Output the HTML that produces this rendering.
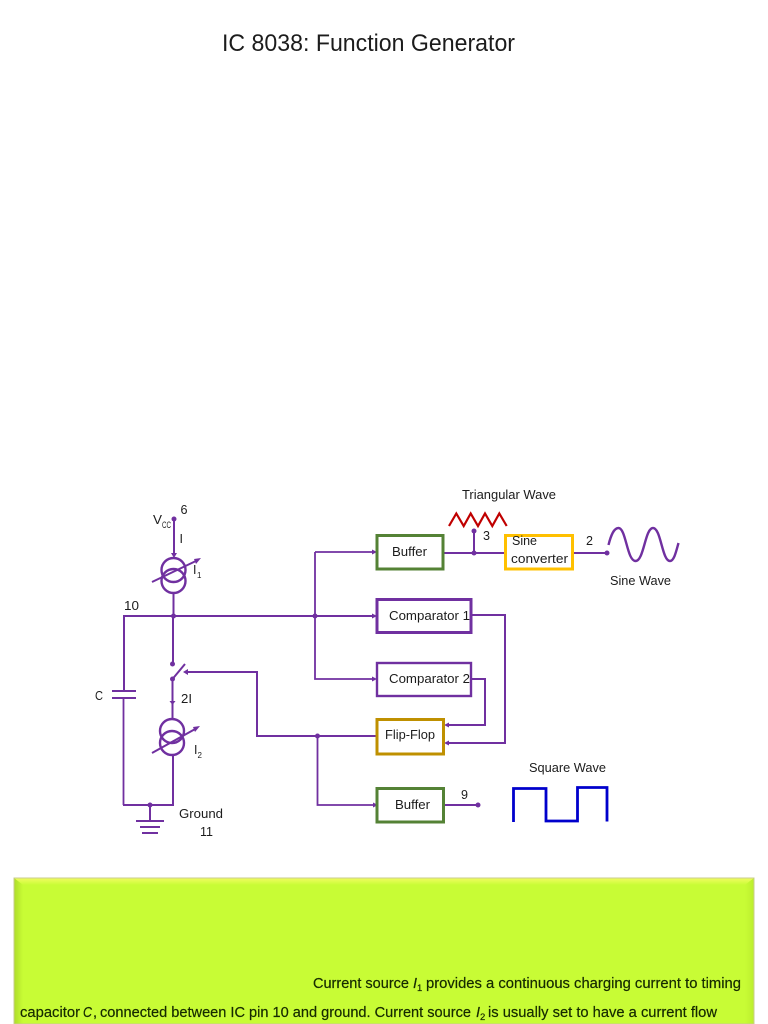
<!DOCTYPE html>
<html>
<head>
<meta charset="utf-8">
<style>
html,body{margin:0;padding:0;background:#fff;width:768px;height:1024px;overflow:hidden}
svg{display:block;filter:blur(.35px)}
text{font-family:"Liberation Sans",sans-serif;fill:#1c1c1c;font-size:12.5px}
.w{fill:none;stroke:#7030a0;stroke-width:2}
.t{fill:none;stroke:#7030a0;stroke-width:1.8}
.d{fill:#7030a0}
.b{fill:#fff;stroke-width:3}
.g text{font-size:14.5px;fill:#162a00;stroke:#162a00;stroke-width:.2}
</style>
</head>
<body>
<svg width="768" height="1024" viewBox="0 0 768 1024" xmlns="http://www.w3.org/2000/svg">
<defs>
<linearGradient id="gt" x1="0" y1="0" x2="0" y2="1"><stop offset="0" stop-color="#f2fb62"/><stop offset="1" stop-color="#c8fc35"/></linearGradient>
<linearGradient id="gl" x1="0" y1="0" x2="1" y2="0"><stop offset="0" stop-color="#aedc2a"/><stop offset="1" stop-color="#c8fc35"/></linearGradient>
<linearGradient id="gr" x1="1" y1="0" x2="0" y2="0"><stop offset="0" stop-color="#bcee2e"/><stop offset="1" stop-color="#c8fc35"/></linearGradient>
</defs>
<text x="222" y="51" style="font-size:24px" textLength="293" lengthAdjust="spacingAndGlyphs">IC 8038: Function Generator</text>

<!-- wires -->
<path class="w" d="M174 519V554M173.500 593V616M173 616V664"/>
<path class="w" d="M124 691V616H375"/>
<path class="t" d="M123.500 698V805"/>
<path class="w" d="M123 805H173V755"/>
<path class="w" d="M172.500 679V719"/>
<path class="w" d="M172.500 679L185 664"/>
<path class="w" d="M185 672H257V736H377"/>
<path class="t" d="M317.500 736V805H374"/>
<path class="w" d="M150 805V820"/>
<path class="w" d="M136 821H164M140 827H160M142 833H158"/>
<path class="w" d="M112 691H136M112 698H136"/>
<path class="t" d="M315 552H374M315 552V679H374"/>
<path class="w" d="M443 553H505M474 553V531M573 553H607"/>
<path class="w" d="M471 615H505V743H447"/>
<path class="w" d="M471 679H485V725H447"/>
<path class="w" d="M443 805H478"/>

<!-- arrowheads -->
<path class="d" d="M171 553H177L174 558Z"/>
<path class="d" d="M169.500 701H175.500L172.500 705Z"/>
<path class="d" d="M183 672L188 669V675Z"/>
<path class="d" d="M377 552L372 549.500V554.500Z"/>
<path class="d" d="M377 616L372 613.500V618.500Z"/>
<path class="d" d="M377 679L372 676.500V681.500Z"/>
<path class="d" d="M378 805L373 802.500V807.500Z"/>
<path class="d" d="M444 725L449 722.500V727.500Z"/>
<path class="d" d="M444 743L449 740.500V745.500Z"/>

<!-- dots -->
<g class="d">
<circle cx="174" cy="519" r="2.500"/><circle cx="173.500" cy="616" r="2.500"/><circle cx="172.500" cy="664" r="2.500"/>
<circle cx="172.500" cy="679" r="2.500"/><circle cx="150" cy="805" r="2.500"/><circle cx="315" cy="616" r="2.500"/>
<circle cx="317.500" cy="736" r="2.500"/><circle cx="474" cy="553" r="2.500"/><circle cx="474" cy="531" r="2.500"/>
<circle cx="607" cy="553" r="2.500"/><circle cx="478" cy="805" r="2.500"/>
</g>

<!-- current sources -->
<g fill="none" stroke="#7030a0" stroke-width="2.400">
<circle cx="173.500" cy="570" r="12"/><circle cx="173.500" cy="581" r="12"/>
<circle cx="172" cy="731" r="12"/><circle cx="172" cy="743" r="12"/>
</g>
<path class="w" d="M152 582L198 560M152 753L197 728"/>
<path class="d" d="M201 558L194 559L196 564Z"/>
<path class="d" d="M200 726L193 727L195 732Z"/>

<!-- boxes -->
<rect class="b" x="377" y="535.500" width="66" height="33.500" stroke="#548235"/>
<rect class="b" x="377" y="599.500" width="94" height="33" stroke="#7030a0"/>
<rect class="b" x="377" y="663" width="94" height="33" stroke="#7030a0" style="stroke-width:2.400"/>
<rect class="b" x="377" y="719.500" width="66.500" height="34.500" stroke="#bf9000"/>
<rect class="b" x="377" y="788.500" width="66.500" height="33.500" stroke="#548235"/>
<rect class="b" x="505.500" y="535.500" width="67" height="33.500" stroke="#ffc000"/>

<!-- waveforms -->
<path fill="none" stroke="#c00000" stroke-width="2.200" d="M449 526L456.300 513.500L463.700 526L470.700 513.500L478 526L485 513.500L492.300 526L499.300 513.500L506.700 526"/>
<path fill="none" stroke="#7030a0" stroke-width="2.400" d="M608.500 545C611 535 614 528 618.500 528C626 528 627 561 635.500 561C644 561 645 528 653 528C661 528 662 561 670 561C674 561 676 552 678.500 543"/>
<path fill="none" stroke="#0000cc" stroke-width="2.800" d="M513.500 822V788.500H546V821H577.500V787.500H607V821.500"/>

<!-- labels -->
<text x="153" y="524" textLength="9" lengthAdjust="spacingAndGlyphs">V</text>
<text x="162" y="528" style="font-size:9.500px" textLength="9" lengthAdjust="spacingAndGlyphs">CC</text>
<text x="180.500" y="514" textLength="7" lengthAdjust="spacingAndGlyphs">6</text>
<text x="179.500" y="543">I</text>
<text x="193" y="574">I</text>
<text x="197" y="578" style="font-size:8px">1</text>
<text x="124" y="610" textLength="15" lengthAdjust="spacingAndGlyphs">10</text>
<text x="95" y="700" textLength="8" lengthAdjust="spacingAndGlyphs">C</text>
<text x="181" y="703" textLength="11" lengthAdjust="spacingAndGlyphs">2I</text>
<text x="194" y="754">I</text>
<text x="197.500" y="758" style="font-size:8px">2</text>
<text x="179" y="818" textLength="44" lengthAdjust="spacingAndGlyphs">Ground</text>
<text x="200" y="836" textLength="13" lengthAdjust="spacingAndGlyphs">11</text>
<text x="392" y="556" textLength="35" lengthAdjust="spacingAndGlyphs">Buffer</text>
<text x="389" y="620" textLength="81" lengthAdjust="spacingAndGlyphs">Comparator 1</text>
<text x="389" y="683" textLength="81" lengthAdjust="spacingAndGlyphs">Comparator 2</text>
<text x="385" y="739" textLength="50" lengthAdjust="spacingAndGlyphs">Flip-Flop</text>
<text x="395" y="809" textLength="35" lengthAdjust="spacingAndGlyphs">Buffer</text>
<text x="512" y="545" textLength="25" lengthAdjust="spacingAndGlyphs">Sine</text>
<text x="511" y="563" textLength="57" lengthAdjust="spacingAndGlyphs">converter</text>
<text x="462" y="499" textLength="94" lengthAdjust="spacingAndGlyphs">Triangular Wave</text>
<text x="483" y="540" textLength="7" lengthAdjust="spacingAndGlyphs">3</text>
<text x="586" y="545" textLength="7" lengthAdjust="spacingAndGlyphs">2</text>
<text x="610" y="585" textLength="61" lengthAdjust="spacingAndGlyphs">Sine Wave</text>
<text x="529" y="772" textLength="77" lengthAdjust="spacingAndGlyphs">Square Wave</text>
<text x="461" y="799" textLength="7" lengthAdjust="spacingAndGlyphs">9</text>

<!-- green panel -->
<rect x="14" y="878" width="740" height="146" fill="#c8fc35"/>
<path d="M14 878H754L745 885H23Z" fill="url(#gt)"/>
<path d="M14 878L23 885V1024H14Z" fill="url(#gl)"/>
<path d="M754 878L745 885V1024H754Z" fill="url(#gr)"/>
<rect x="14" y="878" width="740" height="146" fill="none" stroke="#c9cc8e" stroke-width="1"/>

<g class="g">
<text x="313" y="988" textLength="96" lengthAdjust="spacingAndGlyphs">Current source</text>
<text x="413" y="988" font-style="italic">I</text>
<text x="417" y="991" style="font-size:9.500px">1</text>
<text x="426" y="988" textLength="315" lengthAdjust="spacingAndGlyphs">provides a continuous charging current to timing</text>
<text x="20" y="1017" textLength="60" lengthAdjust="spacingAndGlyphs">capacitor</text>
<text x="83" y="1017" font-style="italic" textLength="9" lengthAdjust="spacingAndGlyphs">C</text>
<text x="93" y="1017">,</text>
<text x="100" y="1017" textLength="371" lengthAdjust="spacingAndGlyphs">connected between IC pin 10 and ground. Current source</text>
<text x="476" y="1017" font-style="italic">I</text>
<text x="480" y="1020" style="font-size:9.500px">2</text>
<text x="488" y="1017" textLength="229" lengthAdjust="spacingAndGlyphs">is usually set to have a current flow</text>
</g>
</svg>
</body>
</html>
